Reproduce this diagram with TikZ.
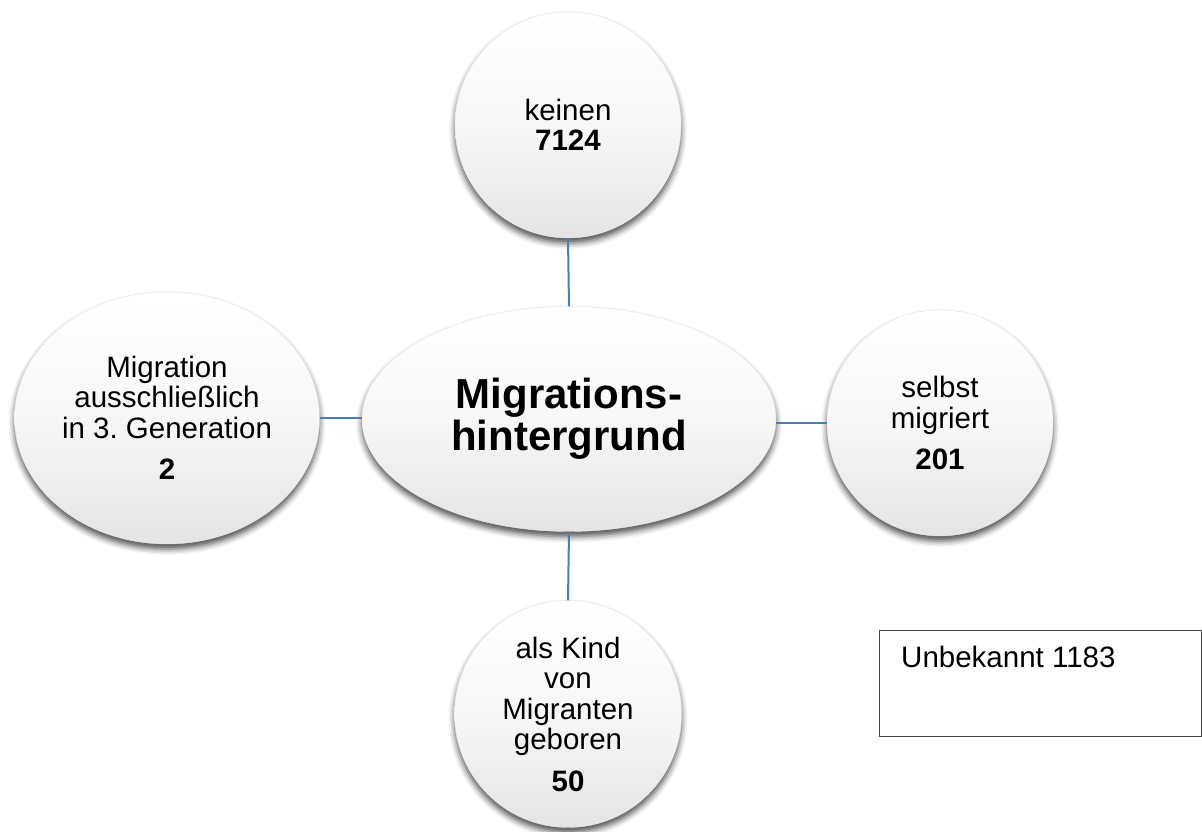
\documentclass[tikz,border=0pt]{standalone}
\usepackage{fontspec}
\setmainfont{Liberation Sans}
\frenchspacing
\usetikzlibrary{shapes.geometric,shadows.blur,calc}
\definecolor{connblue}{RGB}{74,126,187}
\definecolor{bubblebot}{RGB}{228,228,228}
\definecolor{boxline}{RGB}{70,70,70}
\tikzset{
  bubble/.style={ellipse, inner sep=0pt, draw=gray!18, line width=0.4pt,
    top color=white, bottom color=bubblebot, middle color=white!97!black,
    blur shadow={shadow xshift=0pt, shadow yshift=-5pt, shadow blur radius=6pt, shadow opacity=70},
    align=center, font=\fontsize{29.5}{30.5}\selectfont},
  conn/.style={draw=connblue, line width=2pt},
  infobox/.style={draw=boxline, line width=1.3pt, fill=white, inner sep=0pt}
}
\begin{document}
\begin{tikzpicture}[x=1pt,y=-1pt]
\useasboundingbox (0,0) rectangle (1202,832);
\node[bubble, minimum width=414pt, minimum height=225pt,
      font=\bfseries\fontsize{42}{42}\selectfont] (mid) at (569,419) {Migrations-\\hintergrund};
\node[bubble, minimum width=226pt, minimum height=226pt] (top) at (568,125) {keinen\\\textbf{7124}};
\node[bubble, minimum width=305pt, minimum height=252pt] (left) at (167,418) {Migration\\ausschließlich\\in 3. Generation\\[11pt]\textbf{2}};
\node[bubble, minimum width=226pt, minimum height=226pt] (right) at (940,423) {selbst\\migriert\\[11pt]\textbf{201}};
\node[bubble, minimum width=227pt, minimum height=227pt] (bot) at (568,714) {als Kind\\von\\Migranten\\geboren\\[11pt]\textbf{50}};
\draw[conn] (top.south) -- (mid.north);
\draw[conn] (mid.south) -- (bot.north);
\draw[conn] (left.east) -- (left.east -| mid.west);
\draw[conn] (right.west) -- (right.west -| mid.east);
\node[infobox, minimum width=322pt, minimum height=106pt, anchor=north west] (unk) at (879,630) {};
\node[anchor=base west, inner sep=0pt, font=\fontsize{29.5}{30.5}\selectfont] (unktext) at ($(unk.north west)+(22,37)$) {Unbekannt 1183};
\end{tikzpicture}
\end{document}
